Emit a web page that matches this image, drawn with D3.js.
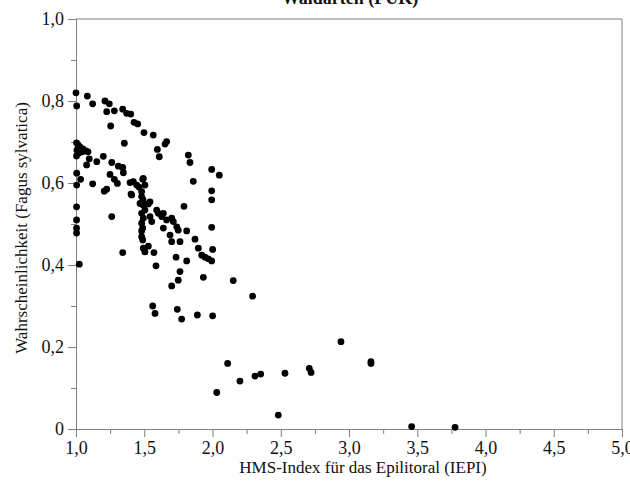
<!DOCTYPE html>
<html>
<head>
<meta charset="utf-8">
<script src="https://cdn.jsdelivr.net/npm/d3@7"></script>
<style>
  body { margin: 0; background: #fff; }
  .axis path, .axis line { stroke: #808080; }
</style>
</head>
<body>
<div id="chart"></div>
<script>
// chart size
var svgWidth = 630;
var svgHeight = 487;

var margin = { top: 19, right: 8, bottom: 58, left: 76 };

var chartWidth = svgWidth - margin.left - margin.right;
var chartHeight = svgHeight - margin.top - margin.bottom;

var serif = "Liberation Serif";

// data
var iepi = [
  1.00, 1.083, 1.122, 1.005, 1.212, 1.244, 1.225, 1.281, 1.342, 1.371,
  1.401, 1.425, 1.452, 1.254, 1.498, 1.566, 1.664, 1.652, 1.354, 1.596,
  1.610, 1.823, 1.835, 1.994, 2.050, 1.859, 1.994, 1.994, 1.791, 1.994,
  1.811, 1.872, 1.896, 1.921, 1.945, 1.969, 1.994, 2.001, 1.733, 1.811,
  1.762, 1.749, 1.701, 1.933, 2.152, 2.294, 1.562, 1.579, 1.742, 1.774,
  1.889, 2.001, 2.031, 2.111, 2.201, 2.311, 2.353, 2.482, 2.531, 2.709,
  2.722, 2.941, 3.161, 3.161, 3.459, 3.777,
  1.004, 1.015, 1.029, 1.051, 1.073, 1.007, 1.022, 1.044, 1.004, 1.088,
  1.097, 1.200, 1.152, 1.262, 1.078, 1.310, 1.342, 1.347, 1.249, 1.281,
  1.303, 1.122, 1.225, 1.207, 1.396, 1.445, 1.462, 1.489, 1.403, 1.005,
  1.034, 1.005, 1.004, 1.004, 1.004, 1.004, 1.024, 1.262, 1.342,
  1.493, 1.420, 1.505, 1.408, 1.481, 1.481, 1.469, 1.493, 1.505, 1.481,
  1.493, 1.481, 1.489, 1.481, 1.489, 1.493, 1.505, 1.530, 1.571, 1.586,
  1.542, 1.542, 1.555, 1.591, 1.603, 1.628, 1.640, 1.664, 1.701, 1.713,
  1.640, 1.738, 1.749, 1.689, 1.701, 1.762, 1.530, 1.481, 1.491
];
var probability = [
  0.820, 0.812, 0.793, 0.788, 0.800, 0.793, 0.774, 0.776, 0.780, 0.770,
  0.768, 0.748, 0.744, 0.739, 0.723, 0.717, 0.701, 0.695, 0.697, 0.682,
  0.664, 0.668, 0.650, 0.633, 0.619, 0.604, 0.581, 0.559, 0.543, 0.492,
  0.483, 0.463, 0.441, 0.424, 0.419, 0.415, 0.410, 0.438, 0.419, 0.410,
  0.384, 0.363, 0.349, 0.370, 0.362, 0.324, 0.300, 0.282, 0.292, 0.268,
  0.278, 0.276, 0.089, 0.160, 0.117, 0.129, 0.134, 0.034, 0.136, 0.148,
  0.138, 0.213, 0.164, 0.160, 0.006, 0.004,
  0.698, 0.693, 0.688, 0.683, 0.678, 0.680, 0.673, 0.676, 0.666, 0.676,
  0.659, 0.665, 0.652, 0.650, 0.644, 0.641, 0.638, 0.625, 0.621, 0.609,
  0.599, 0.598, 0.585, 0.580, 0.601, 0.595, 0.590, 0.609, 0.573, 0.624,
  0.609, 0.595, 0.542, 0.510, 0.490, 0.478, 0.402, 0.518, 0.430,
  0.611, 0.603, 0.595, 0.571, 0.579, 0.567, 0.550, 0.546, 0.534, 0.526,
  0.514, 0.502, 0.490, 0.469, 0.461, 0.441, 0.432, 0.446, 0.430, 0.398,
  0.554, 0.518, 0.506, 0.534, 0.526, 0.518, 0.526, 0.510, 0.514, 0.506,
  0.490, 0.493, 0.485, 0.473, 0.457, 0.457, 0.549, 0.483, 0.559
];

var xTicks = [1, 1.5, 2, 2.5, 3, 3.5, 4, 4.5, 5];
var xMinorTicks = [1.25, 1.75, 2.25, 2.75, 3.25, 3.75, 4.25, 4.75];
var yTicks = [0, 0.2, 0.4, 0.6, 0.8, 1.0];
var yMinorTicks = [0.1, 0.3, 0.5, 0.7, 0.9];

var titleText = "Waldarten (FUK)";
var xLabel = "HMS-Index für das Epilitoral (IEPI)";
var yLabel = "Wahrscheinlichkeit (Fagus sylvatica)";

function fmt(d) {
  if (d === 0) return "0";
  return d3.format(".1f")(d).replace(".", ",");
}

var svg = d3.select("#chart")
  .append("svg")
  .attr("width", svgWidth)
  .attr("height", svgHeight)
  .attr("font-family", serif);

var chartGroup = svg.append("g")
  .attr("transform", `translate(${margin.left}, ${margin.top})`);

var xScale = d3.scaleLinear().domain([1, 5]).range([0, chartWidth]);
var yScale = d3.scaleLinear().domain([0, 1]).range([chartHeight, 0]);

// frame on top and right
chartGroup.append("line")
  .attr("x1", xScale(1)).attr("x2", xScale(5))
  .attr("y1", yScale(1)).attr("y2", yScale(1))
  .attr("stroke", "#808080");
chartGroup.append("line")
  .attr("x1", xScale(5)).attr("x2", xScale(5))
  .attr("y1", yScale(1)).attr("y2", yScale(0))
  .attr("stroke", "#808080");

// minor ticks
chartGroup.append("g")
  .attr("class", "axis")
  .attr("transform", `translate(0, ${chartHeight})`)
  .call(d3.axisBottom(xScale).tickValues(xMinorTicks).tickSize(5).tickSizeOuter(0).tickFormat(""));
chartGroup.append("g")
  .attr("class", "axis")
  .call(d3.axisLeft(yScale).tickValues(yMinorTicks).tickSize(5).tickSizeOuter(0).tickFormat(""));

// major axes
var xAxisG = chartGroup.append("g")
  .attr("class", "axis")
  .attr("transform", `translate(0, ${chartHeight})`)
  .call(d3.axisBottom(xScale).tickValues(xTicks).tickSize(8).tickSizeOuter(0).tickPadding(4).tickFormat(fmt));
xAxisG.attr("font-family", serif).attr("font-size", 18);
xAxisG.selectAll("text").attr("font-family", serif).attr("fill", "#111");

var yAxisG = chartGroup.append("g")
  .attr("class", "axis")
  .call(d3.axisLeft(yScale).tickValues(yTicks).tickSize(8).tickSizeOuter(0).tickPadding(4).tickFormat(fmt));
yAxisG.attr("font-family", serif).attr("font-size", 18);
yAxisG.selectAll("text").attr("font-family", serif).attr("fill", "#111");

// points
chartGroup.selectAll("circle")
  .data(iepi)
  .enter()
  .append("circle")
  .attr("cx", d => xScale(d))
  .attr("cy", (d, i) => yScale(probability[i]))
  .attr("r", 3.4)
  .attr("fill", "#000");

// labels
svg.append("text")
  .attr("x", 350)
  .attr("y", 4)
  .attr("text-anchor", "middle")
  .attr("font-family", serif)
  .attr("font-size", 18)
  .attr("font-weight", "bold")
  .attr("fill", "#111")
  .text(titleText);

svg.append("text")
  .attr("x", 363)
  .attr("y", 473)
  .attr("text-anchor", "middle")
  .attr("font-family", serif)
  .attr("font-size", 17)
  .attr("fill", "#111")
  .text(xLabel);

svg.append("text")
  .attr("transform", "rotate(-90)")
  .attr("x", -228)
  .attr("y", 27)
  .attr("text-anchor", "middle")
  .attr("font-family", serif)
  .attr("font-size", 17)
  .attr("fill", "#111")
  .text(yLabel);
</script>
</body>
</html>
